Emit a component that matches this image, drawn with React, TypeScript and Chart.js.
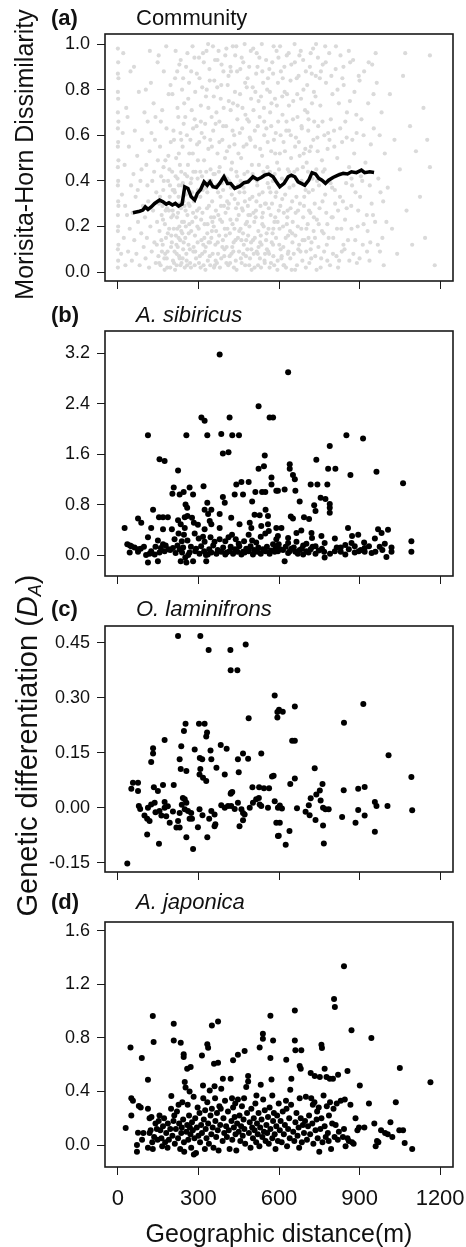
import { useEffect, useRef } from "react";
import { Chart, registerables } from "chart.js";

Chart.register(...registerables);

const FONT = '"Liberation Sans", Arial, Helvetica, sans-serif';

// ---------- axis values ----------
const distanceMin = -48;
const distanceMax = 1248;
const distanceTicks = [0, 300, 600, 900, 1200];
const distanceTickLabels = ["0", "300", "600", "900", "1200"];

const communityTicks = [0, 0.2, 0.4, 0.6, 0.8, 1.0];
const communityTickLabels = ["0.0", "0.2", "0.4", "0.6", "0.8", "1.0"];
const sibiricusTicks = [0, 0.8, 1.6, 2.4, 3.2];
const sibiricusTickLabels = ["0.0", "0.8", "1.6", "2.4", "3.2"];
const laminifronsTicks = [-0.15, 0, 0.15, 0.3, 0.45];
const laminifronsTickLabels = ["-0.15", "0.00", "0.15", "0.30", "0.45"];
const japonicaTicks = [0, 0.4, 0.8, 1.2, 1.6];
const japonicaTickLabels = ["0.0", "0.4", "0.8", "1.2", "1.6"];

// ---------- (a) community: [distance m, dissimilarity x100] ----------
const communityCloud: [number, number][] = [
  [0,2],[1,5],[0,10],[2,12],[0,18],[1,20],[0,25],[2,29],[1,31],[0,38],[1,40],[0,46],[2,49],[0,55],[1,57],[0,63],[2,66],[0,70],[1,76],[0,79],[2,85],[0,87],[1,92],[0,98],
  [12,8],[15,34],[18,61],[22,15],[25,47],[28,3],[31,72],[34,25],[38,9],[41,55],[44,19],[47,88],[49,38],[20,96],[36,68],[27,29],
  [52,5],[55,26],[58,43],[61,14],[63,62],[66,33],[69,8],[72,51],[75,22],[78,79],[81,3],[84,40],[87,17],[90,58],[93,29],[96,11],[99,70],[60,90],[88,45],[74,36],
  [101,24],[103,6],[106,47],[108,15],[111,66],[113,31],[116,2],[118,53],[121,20],[123,83],[126,9],[128,40],[131,27],[133,74],[136,13],[138,58],[141,4],[143,35],[146,22],[148,92],[110,38],[125,61],[135,44],[145,12],[149,49],[119,97],[140,68],[104,80],
  [151,7],[153,30],[155,18],[157,55],[159,3],[161,42],[163,25],[165,71],[167,12],[169,36],[171,88],[173,6],[175,21],[177,49],[179,15],[181,63],[183,28],[185,9],[187,40],[189,78],[191,19],[193,33],[195,2],[197,57],[199,24],[152,95],[160,66],[170,46],[180,99],[188,51],[196,82],[166,29],[176,8],[186,17],[194,38],
  [201,13],[202,44],[204,27],[205,5],[207,62],[208,19],[210,36],[211,9],[213,85],[214,30],[216,16],[217,50],[219,3],[220,24],[222,41],[223,11],[225,68],[226,33],[228,7],[229,20],[231,47],[232,14],[234,93],[235,28],[237,4],[238,38],[240,17],[241,55],[243,10],[244,31],[246,22],[247,74],[249,2],[250,43],[203,78],[209,58],[215,97],[221,88],[227,52],[233,61],[239,80],[245,65],[212,35],[218,12],[224,26],[230,6],[236,18],[242,39],[248,29],
  [251,15],[253,34],[255,8],[257,60],[259,25],[261,47],[263,12],[265,83],[267,29],[269,4],[271,39],[273,18],[275,71],[277,22],[279,52],[281,9],[283,31],[285,94],[287,16],[289,44],[291,6],[293,64],[295,27],[297,13],[299,36],[254,90],[262,76],[270,58],[278,99],[286,67],[294,87],[258,3],[266,21],[274,41],[282,11],[290,24],[298,49],
  [301,19],[303,57],[305,7],[307,33],[309,73],[311,14],[313,42],[315,26],[317,96],[319,3],[321,49],[323,21],[325,65],[327,11],[329,37],[331,80],[333,17],[335,5],[337,54],[339,29],[341,89],[343,13],[345,45],[347,24],[349,68],[304,85],[312,61],[320,92],[328,77],[336,100],[344,58],[308,2],[316,36],[324,9],[332,28],[340,40],[348,15],
  [351,31],[353,8],[355,62],[357,20],[359,84],[361,43],[363,12],[365,27],[367,70],[369,4],[371,52],[373,35],[375,97],[377,16],[379,46],[381,23],[383,76],[385,6],[387,39],[389,58],[391,14],[393,88],[395,29],[397,10],[399,50],[354,99],[362,93],[370,81],[378,66],[386,91],[394,72],[358,2],[366,18],[374,25],[382,33],[390,41],[398,19],
  [401,26],[403,64],[405,11],[407,41],[409,82],[411,3],[413,30],[415,55],[417,17],[419,90],[421,37],[423,8],[425,48],[427,21],[429,74],[431,13],[433,60],[435,32],[437,95],[439,5],[441,44],[443,23],[445,67],[447,15],[449,52],[404,98],[412,86],[420,71],[428,99],[436,79],[444,88],[408,19],[416,7],[424,34],[432,2],[440,28],[448,38],
  [451,9],[453,35],[455,78],[457,19],[459,50],[461,4],[463,63],[465,27],[467,92],[469,12],[471,43],[473,31],[475,69],[477,7],[479,56],[481,22],[483,85],[485,16],[487,40],[489,3],[491,59],[493,25],[495,97],[497,10],[499,47],[456,89],[464,72],[472,100],[480,81],[488,66],[496,76],[460,14],[468,37],[476,21],[484,29],[492,6],
  [501,33],[503,14],[505,71],[507,41],[509,2],[511,55],[513,24],[515,87],[517,9],[519,38],[521,64],[523,18],[525,47],[527,94],[529,6],[531,29],[533,77],[535,12],[537,51],[539,35],[541,83],[543,20],[545,60],[547,4],[549,43],[504,98],[512,79],[520,90],[528,68],[536,100],[544,72],[508,22],[516,31],[524,11],[532,16],[540,26],[548,8],
  [551,30],[553,63],[555,10],[557,46],[559,85],[561,19],[563,37],[565,2],[567,70],[569,25],[571,53],[573,13],[575,92],[577,40],[579,7],[581,58],[583,22],[585,76],[587,33],[589,15],[591,97],[593,48],[595,5],[597,66],[599,27],[556,80],[564,89],[572,74],[580,99],[588,61],[596,83],[560,9],[568,35],[576,17],[584,43],
  [601,12],[603,52],[605,29],[607,88],[609,6],[611,41],[613,69],[615,20],[617,57],[619,3],[621,79],[623,34],[625,15],[627,62],[629,95],[631,24],[633,45],[635,9],[637,73],[639,37],[641,18],[643,84],[645,50],[647,1],[649,31],[604,99],[612,77],[620,90],[628,66],[636,96],[644,60],[616,11],[632,27],[648,42],
  [651,22],[653,75],[655,8],[657,44],[659,92],[661,16],[663,59],[665,33],[667,3],[669,68],[671,27],[673,86],[675,12],[677,51],[679,39],[681,97],[683,19],[685,63],[687,5],[689,46],[691,80],[693,29],[695,14],[697,71],[699,36],[658,100],[666,85],[674,57],[682,76],[690,93],[698,54],
  [701,9],[703,48],[705,82],[707,21],[709,62],[711,35],[713,4],[715,90],[717,26],[719,55],[721,13],[723,74],[725,41],[727,98],[729,18],[731,66],[733,30],[735,7],[737,86],[739,45],[741,23],[743,59],[745,94],[747,11],[749,38],[706,70],[714,53],[722,87],[730,79],[738,100],[746,64],
  [751,28],[754,73],[757,6],[760,49],[763,91],[766,17],[769,60],[772,34],[775,83],[778,12],[781,54],[784,40],[787,96],[790,3],[793,67],[796,24],[799,78],[756,88],[764,44],[772,99],[780,21],[788,58],[798,37],[768,9],
  [802,15],[805,62],[808,36],[811,89],[814,7],[817,50],[820,27],[823,74],[826,43],[829,95],[832,19],[835,57],[838,31],[841,82],[844,10],[847,66],[850,39],[812,99],[824,5],[836,85],[846,23],
  [853,70],[857,14],[861,46],[865,92],[869,29],[873,58],[877,8],[881,79],[885,35],[889,61],[893,20],[897,86],[860,97],[880,52],[890,4],[870,41],
  [902,33],[907,67],[912,12],[917,88],[922,48],[927,25],[932,74],[937,5],[942,56],[947,91],[910,40],[930,18],[945,30],
  [953,63],[958,22],[964,83],[970,41],[976,9],[982,70],[988,31],[994,52],[960,96],[985,15],
  [1005,37],[1013,78],[1021,19],[1030,58],[1040,8],[1050,45],[1062,86],[1075,27],[1088,64],[1096,12],[1070,96],
  [1110,53],[1125,33],[1138,72],[1144,15],[1152,58],[1162,95],[1162,46],[1180,3],
  [154,4],[162,14],[168,23],[174,1],[182,6],[190,27],[198,11],[206,25],[213,1],[219,8],[226,15],[233,3],[239,22],[245,13],[252,27],[256,5],[264,17],[272,2],[280,26],[288,9],[296,20],[302,4],[310,23],[318,12],[326,1],[334,21],[342,7],[350,18],[358,24],[364,5],[372,13],[380,2],[388,22],[396,7],[402,16],[410,28],[418,4],[426,11],[434,19],[442,1],[450,25],[458,6],[466,17],[474,3],[482,10],[490,20],[498,1],[506,8],[514,27],[522,3],[530,13],[538,21],[546,5],[554,17],[562,28],[570,4],[578,12],[586,24],[594,1],[602,19],[610,7],[618,26],[626,2],[634,16],[642,6],[650,13],[660,1],[670,20],[680,9],[690,24],[700,2],[710,15],[720,6],[730,24],[740,1],[760,18],[780,5],[800,24],[820,2],[840,12],[870,19],[900,6],[940,13],
  [157,33],[164,9],[171,40],[178,27],[184,2],[192,45],[199,16],[204,36],[209,4],[215,42],[221,19],[227,38],[231,30],[236,44],[241,6],[247,35],[253,20],[258,42],[263,30],[268,10],[276,35],[281,44],[286,3],[292,33],[297,41],[303,28],[307,44],[314,8],[319,38],[322,15],[329,44],[333,35],[338,13],[344,3],[347,40],[352,22],[356,43],[361,3],[368,38],[373,8],[376,44],[384,29],[389,11],[392,36],[397,42],[404,4],[407,31],[414,40],[419,23],[422,45],[430,9],[433,37],[438,14],[444,42],[447,30],[452,18],[457,40],[462,28],[467,8],[471,35],[478,14],[483,44],[486,25],[491,32],[496,13],[502,43],[505,26],[510,15],[518,40],[521,8],[526,34],[533,2],[537,24],[542,44],[548,30],[552,14],[558,39],[563,8],[566,44],[574,30],[579,19],[582,3],[590,35],[595,22],[600,45],[606,10],[612,32],[617,3],[622,40],[629,21],[633,8],[638,44],[643,28],[649,17],[654,38],[662,26],[668,45],[672,10],[678,30],[684,40],[688,14],[694,33],[702,19],[708,44],[712,27],[718,10],[726,36],[734,15],[742,40],[748,21],[755,2],[762,31],[770,45],[776,26],[785,15],[792,39],[801,8],[809,30],[816,19],[827,33],[834,9],[843,43],[852,28],[862,5],[872,38],[884,14],[895,27],[905,42],[915,21],[928,9],[938,38],[950,25],[968,12],[978,35],[990,3],[1000,22],
  [222,72],[229,91],[236,58],[243,85],[251,68],[259,96],[266,52],[273,88],[280,63],[288,79],[295,56],[302,94],[309,66],[314,81],[322,59],[330,97],[337,72],[342,84],[350,55],[357,77],[364,65],[371,93],[378,57],[385,82],[392,64],[400,95],[406,53],[413,75],[421,88],[427,62],[434,56],[441,99],[446,73],[454,61],[461,94],[468,55],[474,83],[482,67],[489,90],[494,58],[502,81],[510,62],[517,96],[524,75],[530,54],[538,88],[545,66],[552,93],[558,57],[566,79],[571,64],[578,87],[586,52],[592,73],[598,94],[606,60],[614,85],[622,53],[630,78],[637,62],[646,91],[652,67],[660,55],[668,78],[676,95],[684,64],[692,52],[700,88],[710,67],[718,96],[728,58],[736,77],[744,53],[752,85],[762,66],[774,92],[783,61],[795,86],[806,55],[818,80],[828,63],[840,90],[852,59],[864,75],[876,93],[888,69],[900,84],[915,60],[934,92],[952,78],[975,60]
];

const communityTrend: [number, number][] = [
  [56,0.26],[81,0.267],[93,0.272],[102,0.286],[112,0.275],[124,0.286],[137,0.301],[155,0.316],[168,0.308],[180,0.298],[190,0.304],[203,0.294],[214,0.301],[226,0.289],[239,0.298],[249,0.374],[261,0.367],[273,0.33],[286,0.316],[296,0.345],[308,0.362],[321,0.396],[333,0.381],[343,0.396],[354,0.374],[367,0.371],[379,0.389],[395,0.418],[408,0.389],[420,0.389],[435,0.367],[454,0.377],[470,0.392],[485,0.396],[503,0.418],[519,0.406],[534,0.415],[547,0.425],[562,0.43],[578,0.418],[590,0.396],[603,0.374],[619,0.389],[634,0.418],[646,0.425],[659,0.418],[671,0.396],[683,0.389],[696,0.381],[711,0.403],[723,0.436],[736,0.43],[748,0.411],[760,0.403],[773,0.389],[785,0.403],[801,0.415],[820,0.425],[839,0.433],[855,0.43],[870,0.44],[888,0.436],[907,0.447],[919,0.436],[938,0.44],[954,0.437]
];

// ---------- (b) A. sibiricus ----------
const sibiricusPoints: [number, number][] = [
  [379,3.18],[634,2.9],[524,2.36],[311,2.18],[323,2.13],[416,2.18],[565,2.18],[578,2.18],
  [112,1.9],[255,1.9],[333,1.9],[385,1.92],[426,1.9],[451,1.9],[851,1.9],[913,1.85],
  [155,1.52],[174,1.49],[391,1.61],[412,1.63],[547,1.58],[789,1.73],[224,1.34],[524,1.37],[544,1.41],[739,1.51],[640,1.44],[640,1.37],[783,1.37],[810,1.37],[866,1.27],[963,1.32],[652,1.27],[659,1.2],[572,1.23],[572,1.12],[1062,1.14],
  [208,1.07],[267,1.07],[319,1.09],[441,1.12],[460,1.16],[487,1.16],[718,1.12],[743,1.12],[780,1.12],
  [203,0.97],[230,0.96],[245,1.0],[280,0.96],[435,0.96],[466,0.96],[512,1.0],[537,1.0],[549,1.0],[590,1.02],[596,1.02],[621,1.04],[661,1.02],
  [252,0.8],[258,0.75],[131,0.72],[333,0.83],[323,0.72],[348,0.72],[391,0.92],[398,0.83],[500,0.85],[550,0.72],[677,0.85],[755,0.91],[773,0.89],[731,0.79],[736,0.7],[789,0.81],[789,0.75],[789,0.67],
  [153,0.6],[168,0.6],[186,0.6],[75,0.58],[87,0.51],[249,0.6],[259,0.62],[276,0.59],[336,0.65],[379,0.65],[422,0.59],[509,0.64],[528,0.63],[559,0.62],[644,0.61],[652,0.58],[693,0.6],[712,0.57],
  [25,0.43],[124,0.43],[168,0.41],[224,0.55],[234,0.49],[249,0.43],[283,0.51],[298,0.48],[342,0.54],[348,0.49],[379,0.43],[453,0.49],[491,0.51],[497,0.43],[534,0.46],[559,0.49],[590,0.43],[201,0.41],[323,0.41],[609,0.43],[665,0.35],[683,0.39],[721,0.35],[723,0.27],[758,0.3],[857,0.43],[872,0.3],[895,0.32],[808,0.26],[870,0.19],[917,0.2],[969,0.41],[982,0.35],[1006,0.4],[957,0.26],[1093,0.22],[634,0.27],[596,0.3],[975,0.13],
  [35,0.17],[50,0.14],[75,0.09],[97,0.13],[112,0.28],[149,0.23],[168,0.17],[211,0.25],[226,0.34],[246,0.32],[259,0.23],[286,0.34],[301,0.26],[317,0.29],[323,0.21],[345,0.28],[360,0.21],[379,0.25],[400,0.22],[412,0.28],[425,0.32],[439,0.25],[450,0.18],[470,0.22],[487,0.32],[500,0.23],[515,0.2],[532,0.29],[549,0.34],[562,0.38],[578,0.17],[590,0.25],[599,0.17],[634,0.19],[665,0.21],[690,0.15],[702,0.18],[736,0.14],[770,0.19],[830,0.12],[847,0.16],[882,0.14],[919,0.11],[994,0.18],[1019,0.12],
  [44,0.04],[75,0.05],[124,0.06],[137,0.01],[155,0.04],[174,0.06],[189,0.09],[205,0.11],[230,0.09],[239,0.04],[251,-0.04],[234,-0.1],[255,-0.12],[280,-0.1],[267,0.04],[288,0.06],[304,0.02],[321,0.06],[335,0.01],[348,0.04],[367,0.02],[385,0.05],[400,0.01],[416,0.06],[429,0.02],[445,0.05],[460,0.01],[472,0.04],[487,0.06],[503,0.01],[519,0.05],[532,0.02],[549,0.06],[565,0.02],[584,0.05],[596,0.06],[615,0.08],[634,0.03],[646,0.1],[661,0.05],[677,0.08],[690,0.01],[702,0.06],[718,0.09],[736,0.02],[748,0.07],[768,0.05],[770,-0.04],[808,0.06],[830,0.05],[847,0.01],[882,0.04],[897,0.06],[919,0.05],[959,0.05],[1000,-0.03],[1019,0.05],[1093,0.05],[112,-0.12],[149,-0.1],[329,-0.1],[621,-0.1],
  [45,0.15],[62,0.12],[85,0.1],[105,0.0],[118,0.02],[140,0.13],[160,0.11],[178,0.15],[195,0.08],[215,0.03],[222,0.15],[238,0.22],[243,0.12],[262,0.0],[272,0.13],[291,0.1],[310,0.14],[328,0.0],[340,0.09],[355,0.15],[372,0.08],[392,0.12],[405,0.04],[420,0.13],[436,0.09],[452,0.14],[466,0.05],[478,0.1],[494,0.14],[507,0.08],[523,0.12],[540,0.09],[555,0.13],[570,0.07],[587,0.11],[605,0.09],[625,0.13],[640,0.06],[655,0.12],[670,0.02],[685,0.1],[710,0.04],[725,0.13],[760,0.1],[790,0.02],[815,0.12],[860,0.09],[905,0.08],[935,0.14],[945,0.03],[985,0.08]
];

// ---------- (c) O. laminifrons ----------
const laminifronsPoints: [number, number][] = [
  [224,0.468],[307,0.468],[338,0.43],[419,0.43],[476,0.445],[420,0.375],[445,0.375],[584,0.306],[594,0.261],[594,0.246],[487,0.244],[252,0.229],[302,0.229],[323,0.229],[246,0.209],[332,0.205],[329,0.194],[174,0.185],[236,0.168],[383,0.171],[405,0.161],[131,0.162],[131,0.148],[124,0.125],[286,0.159],[345,0.156],[348,0.132],[466,0.148],[447,0.132],[485,0.134],[534,0.148],[230,0.132],[305,0.136],[314,0.132],[234,0.106],[255,0.1],[307,0.106],[304,0.091],[317,0.082],[329,0.073],[367,0.109],[398,0.091],[450,0.097],[574,0.085],
  [600,0.267],[614,0.262],[659,0.276],[914,0.283],[842,0.232],[649,0.183],[659,0.183],[1008,0.143],[733,0.108],[1093,0.084],[659,0.08],[642,0.065],
  [56,0.068],[75,0.068],[50,0.052],[75,0.046],[134,0.056],[149,0.046],[168,0.062],[208,0.062],[501,0.056],[526,0.056],[544,0.053],[563,0.053],[426,0.043],[420,0.038],[762,0.065],[752,0.047],[739,0.036],[718,0.026],[841,0.048],[895,0.052],[919,0.057],[755,0.02],
  [78,0.005],[112,0.0],[124,0.009],[137,0.014],[174,0.016],[174,0.0],[155,-0.009],[162,-0.021],[180,-0.023],[99,-0.021],[109,-0.03],[118,-0.036],[193,-0.041],[224,-0.036],[230,-0.014],[249,-0.004],[261,-0.009],[273,-0.014],[267,-0.03],[249,0.023],[242,0.027],[255,0.014],[218,-0.054],[230,-0.054],[276,-0.03],[304,-0.004],[298,-0.053],[333,-0.08],[255,-0.08],[109,-0.073],[153,-0.098],[280,-0.112],[35,-0.152],
  [348,-0.009],[360,-0.018],[363,-0.045],[360,-0.05],[385,0.007],[398,0.0],[410,0.005],[422,0.005],[435,-0.003],[447,0.014],[460,-0.004],[466,-0.014],[472,-0.018],[453,-0.05],[466,-0.034],[491,0.0],[503,0.014],[515,0.023],[525,0.027],[528,0.009],[534,0.005],[559,0.0],[584,0.018],[596,0.0],[590,-0.041],[596,-0.077],[422,0.041],
  [83,-0.003],[140,-0.012],[186,0.004],[205,-0.01],[238,0.008],[315,-0.02],[340,-0.03],[580,0.087],
  [603,0.006],[611,-0.002],[667,-0.001],[711,0.007],[699,-0.011],[714,-0.02],[736,-0.033],[764,0.0],[773,-0.004],[785,-0.004],[764,-0.048],[767,-0.097],[895,-0.006],[919,-0.021],[835,-0.025],[885,-0.041],[957,0.016],[963,0.005],[1004,0.005],[1096,-0.007],[957,-0.065],[603,-0.041],[599,-0.076],[639,-0.063],[625,-0.101]
];

// ---------- (d) A. japonica ----------
const japonicaPoints: [number, number][] = [
  [130,0.963],[208,0.906],[350,0.893],[373,0.923],[568,0.966],[47,0.729],[133,0.769],[208,0.781],[234,0.764],[89,0.649],[245,0.677],[245,0.657],[333,0.752],[336,0.727],[313,0.669],[540,0.831],[540,0.794],[578,0.781],[528,0.729],[429,0.632],[447,0.674],[472,0.702],[568,0.649],[112,0.488],[258,0.57],[271,0.582],[358,0.607],[373,0.615],
  [842,1.334],[805,1.09],[808,1.03],[659,1.005],[870,0.856],[944,0.799],[659,0.781],[661,0.707],[683,0.707],[758,0.749],[760,0.724],[627,0.637],[677,0.59],[681,0.57],[718,0.537],[733,0.515],[752,0.508],[770,0.57],[777,0.508],[789,0.495],[801,0.495],[820,0.525],[855,0.552],[1050,0.575],[1164,0.468],[646,0.495],[642,0.413],[901,0.445],
  [391,0.495],[420,0.495],[317,0.445],[342,0.408],[360,0.438],[385,0.421],[485,0.515],[485,0.475],[478,0.433],[532,0.45],[572,0.49],[199,0.366],[56,0.33],[50,0.35],[78,0.291],
  [29,0.127],[50,0.221],[75,0.092],[71,0.0],[71,-0.05],[85,0.28],[90,0.04],[95,0.09],
  [112,0.27],[118,0.2],[122,0.11],[128,0.02],[130,-0.03],[135,0.06],[140,0.16],[145,0.12],[118,0.09],[125,0.21],[148,0.04],[112,-0.02],
  [152,0.18],[158,0.11],[162,0.05],[168,0.14],[172,0.2],[176,0.02],[180,0.09],[186,0.16],[190,0.04],[195,0.12],[198,0.27],[165,-0.01],[185,-0.02],[155,0.22],
  [203,0.07],[207,0.18],[212,0.01],[216,0.12],[220,0.25],[224,0.05],[228,0.16],[232,-0.03],[236,0.09],[240,0.32],[243,0.19],[246,0.02],[249,0.47],[252,0.43],[247,-0.05],[238,0.13],[226,0.3],[210,0.22],
  [255,0.1],[258,0.15],[262,0.04],[265,0.22],[267,0.4],[270,0.08],[273,-0.02],[276,0.17],[279,0.11],[282,0.36],[285,0.05],[288,0.2],[291,-0.06],[294,0.13],[297,0.28],[300,0.07],[283,-0.07],[260,0.3],[268,0.13],
  [304,0.24],[306,0.02],[310,0.15],[313,0.09],[320,0.19],[324,-0.03],[327,0.12],[330,0.05],[333,0.32],[336,0.16],[339,0.01],[345,0.22],[348,0.08],[350,0.27],[318,0.35],[325,0.26],
  [353,0.13],[356,-0.02],[363,0.18],[366,0.06],[369,0.24],[372,0.11],[375,-0.04],[378,0.29],[381,0.15],[390,0.03],[393,0.2],[396,0.09],[399,0.33],[362,0.35],[383,0.27],
  [403,0.14],[406,0.06],[410,0.25],[413,0.11],[416,-0.03],[423,0.18],[426,0.04],[429,0.28],[432,0.13],[435,0.21],[438,0.08],[441,-0.04],[444,0.16],[447,0.34],[450,0.1],[425,0.35],[437,0.31],
  [453,0.22],[456,0.03],[459,0.14],[462,0.29],[465,0.07],[468,0.19],[471,0.12],[474,0.01],[481,0.24],[488,0.09],[491,0.17],[494,-0.02],[497,0.27],[500,0.13],[470,0.35],
  [503,0.05],[506,0.2],[509,0.11],[512,0.31],[515,0.02],[518,0.16],[521,0.08],[524,0.24],[527,-0.01],[530,0.13],[535,0.19],[538,0.06],[541,0.34],[544,0.1],[547,0.26],[550,0.03],[516,0.37],
  [553,0.15],[556,0.09],[559,0.21],[562,0.01],[565,0.28],[568,0.12],[575,0.05],[578,0.18],[581,0.24],[584,0.08],[587,-0.03],[590,0.14],[593,0.22],[596,0.03],[599,0.31],[575,0.37],
  [603,0.11],[606,0.18],[610,0.02],[614,0.25],[618,0.08],[622,0.15],[626,0.33],[630,-0.01],[634,0.12],[638,0.2],[640,0.05],[628,0.27],[645,0.3],
  [653,0.1],[657,0.03],[661,0.17],[665,0.24],[669,0.07],[673,0.13],[677,0.35],[681,0.2],[685,0.02],[689,0.15],[693,0.09],[697,0.18],[700,0.36],[675,-0.02],
  [704,0.04],[708,0.14],[712,0.22],[716,0.08],[720,0.35],[724,0.16],[728,0.01],[732,0.32],[736,0.11],[740,0.19],[744,0.05],[748,0.28],[750,-0.05],[726,0.3],[742,0.25],
  [754,0.12],[758,0.2],[762,0.02],[766,0.37],[770,0.14],[774,0.06],[778,0.29],[782,0.09],[786,0.22],[790,0.32],[794,-0.03],[798,0.16],[785,0.03],
  [803,0.27],[807,0.06],[811,0.15],[815,0.31],[819,0.04],[823,0.1],[830,0.33],[838,0.06],[845,0.34],[848,-0.01],[842,0.12],
  [855,0.05],[860,0.03],[866,0.3],[872,0.02],[878,0.01],[885,0.2],[892,0.11],[898,0.13],
  [918,0.13],[935,0.31],[955,0.16],[960,-0.01],[965,0.03],[970,0.02],[980,0.11],[995,0.09],[1005,0.08],[1015,0.17],[1022,0.06],[1035,0.32],[1048,0.11],[1062,0.11],[1068,0.015],[1096,-0.03]
];

// ---------- panel layout (page pixels) ----------
const PAGE_W = 466;
const PLOT_LEFT = 105;
const PLOT_RIGHT = 453;

type PanelSpec = {
  key: string;
  top: number;
  height: number;
  areaTop: number;
  areaBottom: number;
  yMin: number;
  yMax: number;
  yTicks: number[];
  yLabels: string[];
  showXLabels: boolean;
  datasets: any[];
};

const boxPlugin = {
  id: "rbox",
  afterDraw(chart: any) {
    const { ctx, chartArea: a } = chart;
    ctx.save();
    ctx.strokeStyle = "#1a1a1a";
    ctx.lineWidth = 1.6;
    ctx.strokeRect(a.left, a.top, a.right - a.left, a.bottom - a.top);
    ctx.restore();
  },
};

function Panel({ spec }: { spec: PanelSpec }) {
  const ref = useRef<HTMLCanvasElement | null>(null);
  useEffect(() => {
    const canvas = ref.current;
    if (!canvas) return;
    const gridOpts = {
      display: true,
      drawOnChartArea: false,
      drawTicks: true,
      tickLength: 8,
      color: "#1a1a1a",
      lineWidth: 1,
    };
    const chart = new Chart(canvas, {
      type: "scatter",
      data: { datasets: spec.datasets },
      options: {
        responsive: false,
        maintainAspectRatio: false,
        animation: false,
        events: [],
        layout: {
          padding: {
            left: 0,
            right: PAGE_W - PLOT_RIGHT,
            top: spec.areaTop - spec.top,
            bottom: 0,
          },
        },
        plugins: {
          legend: { display: false },
          tooltip: { enabled: false },
          title: { display: false },
        },
        scales: {
          x: {
            type: "linear",
            min: distanceMin,
            max: distanceMax,
            bounds: "data",
            afterBuildTicks: (s: any) => {
              s.ticks = distanceTicks.map((v) => ({ value: v }));
            },
            afterFit: (s: any) => {
              s.height = spec.top + spec.height - spec.areaBottom;
              s.paddingLeft = 0;
              s.paddingRight = 0;
            },
            grid: gridOpts,
            border: { display: false },
            ticks: {
              display: spec.showXLabels,
              padding: 11,
              color: "#111",
              autoSkip: false,
              maxRotation: 0,
              minRotation: 0,
              font: { family: FONT, size: 22 },
              callback: (_v: any, i: number) => distanceTickLabels[i],
            },
          },
          y: {
            type: "linear",
            min: spec.yMin,
            max: spec.yMax,
            bounds: "data",
            afterBuildTicks: (s: any) => {
              s.ticks = spec.yTicks.map((v) => ({ value: v }));
            },
            afterFit: (s: any) => {
              s.width = PLOT_LEFT;
              s.paddingTop = 0;
              s.paddingBottom = 0;
            },
            grid: gridOpts,
            border: { display: false },
            ticks: {
              padding: 7,
              color: "#111",
              autoSkip: false,
              font: { family: FONT, size: 18 },
              callback: (_v: any, i: number) => spec.yLabels[i],
            },
          },
        },
      } as any,
      plugins: [boxPlugin],
    });
    return () => chart.destroy();
  }, [spec]);
  return (
    <canvas
      ref={ref}
      width={PAGE_W}
      height={spec.height}
      style={{
        position: "absolute",
        left: 0,
        top: spec.top,
        width: PAGE_W,
        height: spec.height,
        display: "block",
      }}
    />
  );
}

const dots = (pts: [number, number][]) => ({
  data: pts.map(([x, y]) => ({ x, y })),
  pointRadius: 3,
  pointBackgroundColor: "#000",
  pointBorderWidth: 0,
  backgroundColor: "#000",
  borderWidth: 0,
});

const panels: PanelSpec[] = [
  {
    key: "a",
    top: 0,
    height: 300,
    areaTop: 34,
    areaBottom: 281,
    yMin: -0.039,
    yMax: 1.044,
    yTicks: communityTicks,
    yLabels: communityTickLabels,
    showXLabels: false,
    datasets: [
      {
        data: communityTrend.map(([x, y]) => ({ x, y })),
        showLine: true,
        borderColor: "#000",
        borderWidth: 3.5,
        pointRadius: 0,
        fill: false,
        tension: 0,
      },
      {
        data: communityCloud.map(([x, y]) => ({ x, y: y / 100 })),
        pointRadius: 2.1,
        pointBackgroundColor: "#dadada",
        backgroundColor: "#dadada",
        pointBorderWidth: 0,
        borderWidth: 0,
      },
    ],
  },
  {
    key: "b",
    top: 300,
    height: 300,
    areaTop: 331,
    areaBottom: 576,
    yMin: -0.333,
    yMax: 3.554,
    yTicks: sibiricusTicks,
    yLabels: sibiricusTickLabels,
    showXLabels: false,
    datasets: [dots(sibiricusPoints)],
  },
  {
    key: "c",
    top: 600,
    height: 295,
    areaTop: 626,
    areaBottom: 872,
    yMin: -0.175,
    yMax: 0.4955,
    yTicks: laminifronsTicks,
    yLabels: laminifronsTickLabels,
    showXLabels: false,
    datasets: [dots(laminifronsPoints)],
  },
  {
    key: "d",
    top: 895,
    height: 352,
    areaTop: 922,
    areaBottom: 1167,
    yMin: -0.164,
    yMax: 1.665,
    yTicks: japonicaTicks,
    yLabels: japonicaTickLabels,
    showXLabels: true,
    datasets: [dots(japonicaPoints)],
  },
];

const panelTitles = [
  { tag: "(a)", name: "Community", italic: false, top: 6.5 },
  { tag: "(b)", name: "A. sibiricus", italic: true, top: 304 },
  { tag: "(c)", name: "O. laminifrons", italic: true, top: 597.5 },
  { tag: "(d)", name: "A. japonica", italic: true, top: 891 },
];

const txt = {
  position: "absolute" as const,
  fontFamily: FONT,
  color: "#111",
  whiteSpace: "nowrap" as const,
};

export default function App() {
  return (
    <div
      style={{
        position: "fixed",
        left: 0,
        top: 0,
        width: PAGE_W,
        height: 1247,
        overflow: "hidden",
        background: "#fff",
      }}
    >
      {panels.map((p) => (
        <Panel key={p.key} spec={p} />
      ))}
      {panelTitles.map((t) => (
        <div key={t.tag}>
          <div style={{ ...txt, left: 51, top: t.top, fontSize: 22, lineHeight: "22px", fontWeight: "bold" }}>{t.tag}</div>
          <div style={{ ...txt, left: 136, top: t.top, fontSize: 22, lineHeight: "22px", fontStyle: t.italic ? "italic" : "normal" }}>{t.name}</div>
        </div>
      ))}
      <div
        style={{
          ...txt,
          left: 24.3 - 200,
          top: 154 - 12.5,
          width: 400,
          height: 25,
          fontSize: 25,
          lineHeight: "25px",
          textAlign: "center",
          transform: "rotate(-90deg)",
        }}
      >
        Morisita-Horn Dissimilarity
      </div>
      <div
        style={{
          ...txt,
          left: 27 - 250,
          top: 745 - 14.5,
          width: 500,
          height: 29,
          fontSize: 29,
          lineHeight: "29px",
          textAlign: "center",
          transform: "rotate(-90deg)",
        }}
      >
        Genetic differentiation (<i>D</i>
        <span style={{ fontSize: "0.62em", fontStyle: "italic", position: "relative", top: "0.22em" }}>A</span>)
      </div>
      <div
        style={{
          ...txt,
          left: 279 - 200,
          top: 1221,
          width: 400,
          fontSize: 25,
          lineHeight: "25px",
          textAlign: "center",
        }}
      >
        Geographic distance(m)
      </div>
    </div>
  );
}
